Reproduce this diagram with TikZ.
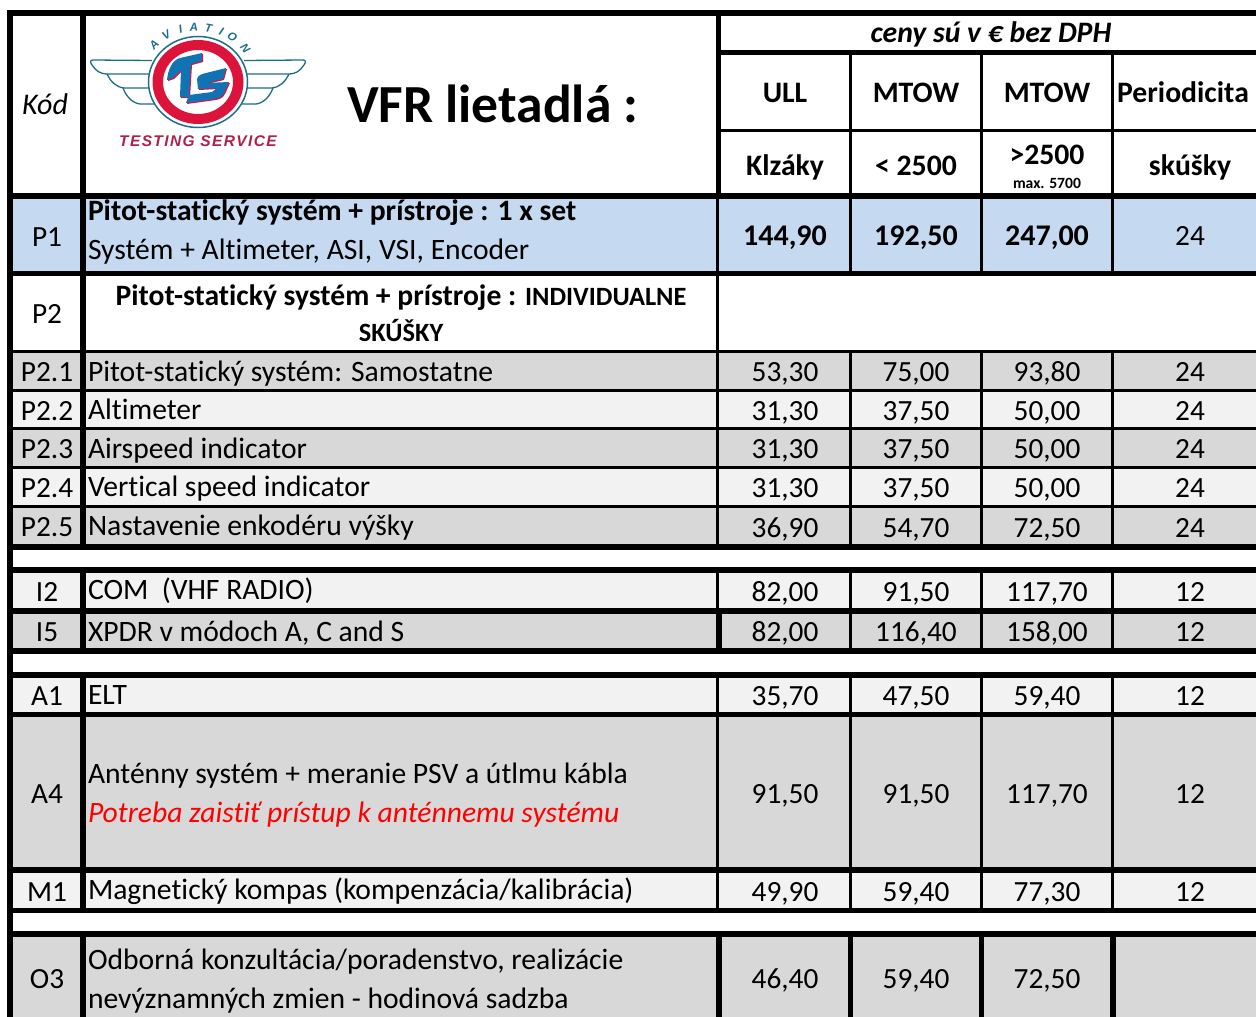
\documentclass[tikz,border=0pt]{standalone}
\usepackage{fontspec}
\usetikzlibrary{calc}
\setmainfont[Ligatures=NoCommon]{Carlito}
\newfontfamily\logofont[LetterSpace=9]{Liberation Sans}
\newfontfamily\aviafont{Liberation Sans}
\definecolor{rowgray}{HTML}{D8D8D8}
\definecolor{rowlight}{HTML}{F2F2F2}
\definecolor{rowblue}{HTML}{C5D9F1}
\definecolor{logoteal}{HTML}{1C6E8C}
\definecolor{logored}{HTML}{DC143C}
\definecolor{logoblue}{HTML}{1273B4}
\definecolor{logotext}{HTML}{B0204A}
\newcommand{\fsz}[1]{\fontsize{#1}{#1}\selectfont}
\tikzset{
  base/.style={inner sep=0pt,outer sep=0pt,text=black},
  txt/.style={base,anchor=base west,font=\fsz{29.6}},
  txtb/.style={base,anchor=base west,font=\fsz{29.6}\bfseries},
  num/.style={base,anchor=base,font=\fsz{29.3}},
  numb/.style={base,anchor=base,font=\fsz{30}\bfseries},
  head/.style={base,anchor=base,font=\fsz{29.7}\bfseries},
  wing/.style={draw=logoteal,line width=1.3pt,fill=none,line join=round},
}
\newcommand{\vbarx}[4]{\fill[black] (#1,#3) rectangle (#2,#4);}
\newcommand{\rowvals}[6]{%
  \node[num] (v1#1) at (785,#6) {#2};
  \node[num] (v2#1) at (916,#6) {#3};
  \node[num] (v3#1) at (1047,#6) {#4};
  \node[num] (v4#1) at (1190,#6) {#5};}
\begin{document}
\begin{tikzpicture}[x=1pt,y=-1pt]
\useasboundingbox (0,0) rectangle (1256,1017);
\fill[white] (0,0) rectangle (1256,1017);
% row backgrounds
\fill[rowblue] (13,198) rectangle (1256,272);
\fill[rowgray] (13,353) rectangle (1256,390);
\fill[rowlight] (13,392) rectangle (1256,428);
\fill[rowgray] (13,430) rectangle (1256,467);
\fill[rowlight] (13,469) rectangle (1256,506);
\fill[rowgray] (13,508) rectangle (1256,545);
\fill[rowlight] (13,573) rectangle (1256,609);
\fill[rowgray] (13,613) rectangle (1256,649);
\fill[rowlight] (13,678) rectangle (1256,713);
\fill[rowgray] (13,717) rectangle (1256,868);
\fill[rowlight] (13,873) rectangle (1256,909);
\fill[rowgray] (13,937) rectangle (1256,1017);
% vertical rules
\vbarx{7}{13}{10}{1017}
\foreach \a/\b/\c/\d in {80/86/10/550,80/86/570/650,80/86/675/910,80/86/934/1017,
  716/721/10/198,716/719/198/550,716/719/570/650,716/719/675/910}{
  \vbarx{\a}{\b}{\c}{\d}
}
\foreach \a/\b in {849/852,980/983,1111/1114}{
  \vbarx{\a}{\b}{53}{274}
  \vbarx{\a}{\b}{351}{550}
  \vbarx{\a}{\b}{570}{650}
  \vbarx{\a}{\b}{675}{910}
}
\vbarx{716}{722}{611}{650}
\foreach \a/\b in {716/722,848/853,979/984,1110/1116}{\vbarx{\a}{\b}{934}{1017}}
% horizontal rules
\fill[black] (7,10) rectangle (1256,16);
\fill[black] (718,50) rectangle (1256,55);
\fill[black] (718,129) rectangle (1256,132);
\fill[black] (7,193) rectangle (1256,199);
\fill[black] (7,271) rectangle (1256,276);
\fill[black] (7,350) rectangle (1256,353);
\fill[black] (7,389) rectangle (1256,392);
\fill[black] (7,427) rectangle (1256,430);
\fill[black] (7,466) rectangle (1256,469);
\fill[black] (7,505) rectangle (1256,508);
\fill[black] (7,544) rectangle (1256,550);
\fill[black] (7,567) rectangle (1256,573);
\fill[black] (7,608) rectangle (1256,614);
\fill[black] (7,648) rectangle (1256,654);
\fill[black] (7,672) rectangle (1256,678);
\fill[black] (7,712) rectangle (1256,717);
\fill[black] (7,867) rectangle (1256,873);
\fill[black] (7,908) rectangle (1256,913);
\fill[black] (7,931) rectangle (1256,937);
% logo wings
\foreach \m in {1,-1}{
\begin{scope}[shift={(198,0)},xscale=\m]
  \draw[wing] (-46,60.5) -- (-105,60) .. controls (-108,60) and (-108,62) .. (-106,65) .. controls (-102,71) and (-98,74) .. (-90,74) -- (-48,74);
  \draw[wing] (-91,74) .. controls (-87,82) and (-82,87) .. (-74,88) -- (-46,88);
  \draw[wing] (-75,88) .. controls (-72,96) and (-66,103) .. (-58,104) -- (-38,104);
\end{scope}}
% logo disc
\fill[white] (198,82) ellipse [x radius=49.7,y radius=45.7];
\draw[logoteal,line width=1.5pt] (198,82) ellipse [x radius=49.5,y radius=45.5];
\fill[logored,even odd rule] (198,82) ellipse [x radius=45.5,y radius=42] (198,82) ellipse [x radius=35,y radius=32];
% TS monogram
\begin{scope}[shift={(1,1)}]
\fill[logored] (167,80) .. controls (168,70) and (172,60) .. (180,58) -- (202,53) -- (202,61) -- (191,64) -- (189,97) -- (180,97) -- (181,70) -- (173,78) -- cycle;
\fill[logored] (198,89) -- (197,79) .. controls (198,75) and (202,74) .. (206,73) -- (226,68) -- (223,79) -- (206,83) -- (229,82) -- (224,93) .. controls (222,97) and (219,98) .. (215,99) -- (186,103) -- (189,95) -- (212,92) -- (217,88) -- cycle;
\end{scope}
\fill[logoblue] (167,80) .. controls (168,70) and (172,60) .. (180,58) -- (202,53) -- (202,61) -- (191,64) -- (189,97) -- (180,97) -- (181,70) -- (173,78) -- cycle;
\fill[logoblue] (198,89) -- (197,79) .. controls (198,75) and (202,74) .. (206,73) -- (226,68) -- (223,79) -- (206,83) -- (229,82) -- (224,93) .. controls (222,97) and (219,98) .. (215,99) -- (186,103) -- (189,95) -- (212,92) -- (217,88) -- cycle;
% logo lettering
\foreach \ch/\ang [count=\i] in {A/137,V/122,I/107,A/94,T/80,I/67,O/55,N/38}{
  \node[base,text=logoteal,font=\aviafont\fsz{11.5}\bfseries\itshape,rotate=\ang-90] (av\i) at ($(198,82)+({60*cos(\ang)},{-55*sin(\ang)})$) {\ch};
}
\node[base,text=logotext,font=\logofont\fsz{15.5}\bfseries\itshape] (tsv) at (198,141) {TESTING SERVICE};
% header
\node[base,font=\fsz{30}\itshape] (kod) at (45,104) {Kód};
\node[base,anchor=base west,font=\fsz{53.6}\bfseries] (title) at (347,122) {VFR lietadlá :};
\node[base,anchor=base,font=\fsz{29.7}\bfseries\itshape] (ceny) at (991,42) {ceny sú v € bez DPH};
\node[head] (h1) at (785,102) {ULL};
\node[head] (h2) at (916,102) {MTOW};
\node[head] (h3) at (1047,102) {MTOW};
\node[head] (h4) at (1183,102) {Periodicita};
\node[head] (k1) at (785,175) {Klzáky};
\node[head] (k2) at (916,175) {< 2500};
\node[head] (k3) at (1047,164) {>2500};
\node[base,anchor=base,font=\fsz{15.6}\bfseries] (k3b) at (1047,188) {max. 5700};
\node[head] (k4) at (1190,175) {skúšky};
% codes
\foreach \c/\y in {P1/246,P2/323,P2.1/381,P2.2/420,P2.3/458,P2.4/497,P2.5/536,I2/601,I5/641,A1/705,A4/803,M1/901,O3/988}{
  \node[num] (c\c) at (47,\y) {\c};
}
% descriptions
\node[txtb] (d1a) at (88,220) {Pitot-statický systém + prístroje : 1 x set};
\node[txt] (d1b) at (88,259) {Systém + Altimeter, ASI, VSI, Encoder};
\node[base,anchor=base,font=\fsz{29.6}\bfseries] (d2a) at (401,305) {Pitot-statický systém + prístroje : {\fsz{26.4}INDIVIDUALNE}};
\node[base,anchor=base,font=\fsz{26.4}\bfseries] (d2b) at (401,341) {SKÚŠKY};
\node[txt] (d21) at (88,381) {Pitot-statický systém: Samostatne};
\node[txt] (d22) at (88,419) {Altimeter};
\node[txt] (d23) at (88,458) {Airspeed indicator};
\node[txt] (d24) at (88,496) {Vertical speed indicator};
\node[txt] (d25) at (88,535) {Nastavenie enkodéru výšky};
\node[txt] (dI2) at (88,599) {COM\ \ (VHF RADIO)};
\node[txt] (dI5) at (88,641) {XPDR v módoch A, C and S};
\node[txt] (dA1) at (88,704) {ELT};
\node[txt] (dA4) at (88,783) {Anténny systém + meranie PSV a útlmu kábla};
\node[txt,text=red,font=\fsz{29.6}\itshape] (dA4b) at (88,822) {Potreba zaistiť prístup k anténnemu systému};
\node[txt] (dM1) at (88,899) {Magnetický kompas (kompenzácia/kalibrácia)};
\node[txt] (dO3) at (88,969) {Odborná konzultácia/poradenstvo, realizácie};
\node[txt] (dO3b) at (88,1008) {nevýznamných zmien - hodinová sadzba};
% values
\node[numb] (vP1a) at (785,245) {144,90};
\node[numb] (vP1b) at (916,245) {192,50};
\node[numb] (vP1c) at (1047,245) {247,00};
\node[num] (vP1d) at (1190,245) {24};
\rowvals{a}{53,30}{75,00}{93,80}{24}{381}
\rowvals{b}{31,30}{37,50}{50,00}{24}{420}
\rowvals{c}{31,30}{37,50}{50,00}{24}{458}
\rowvals{d}{31,30}{37,50}{50,00}{24}{497}
\rowvals{e}{36,90}{54,70}{72,50}{24}{537}
\rowvals{f}{82,00}{91,50}{117,70}{12}{601}
\rowvals{g}{82,00}{116,40}{158,00}{12}{641}
\rowvals{h}{35,70}{47,50}{59,40}{12}{705}
\rowvals{i}{91,50}{91,50}{117,70}{12}{803}
\rowvals{j}{49,90}{59,40}{77,30}{12}{901}
\node[num] (vO1) at (785,988) {46,40};
\node[num] (vO2) at (916,988) {59,40};
\node[num] (vO3) at (1047,988) {72,50};
\end{tikzpicture}
\end{document}
